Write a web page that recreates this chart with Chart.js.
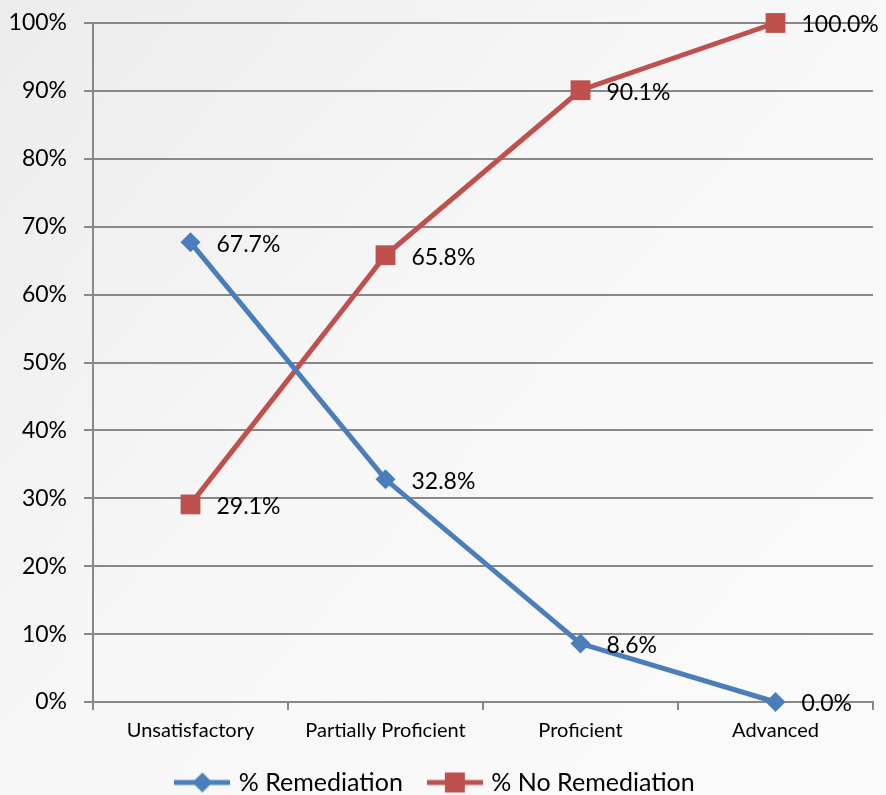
<!DOCTYPE html>
<html>
<head>
<meta charset="utf-8">
<script src="https://cdn.jsdelivr.net/npm/chart.js@4.4.0/dist/chart.umd.min.js"></script>
<style>
    html, body { margin: 0; padding: 0; background: #f6f6f6; }
    #wrap { width: 886px; height: 795px; position: relative; }
</style>
</head>
<body>
<div id="wrap"><canvas id="lineChart"></canvas></div>
<script>
const categories = ['Unsatisfactory', 'Partially Proficient', 'Proficient', 'Advanced'];
const remediation = [67.7, 32.8, 8.6, 0.0];
const noRemediation = [29.1, 65.8, 90.1, 100.0];
const yTicks = [0, 10, 20, 30, 40, 50, 60, 70, 80, 90, 100];

const BLUE = '#4a7ebb';
const RED = '#c0504d';
const FONT = 'Lato, "Open Sans", sans-serif';

// small canvas with a line and marker, used as the legend symbol
function legendSymbol(color, style) {
    const c = document.createElement('canvas');
    c.width = 56;
    c.height = 22;
    const g = c.getContext('2d');
    g.strokeStyle = color;
    g.lineWidth = 5;
    g.beginPath();
    g.moveTo(0, 11);
    g.lineTo(56, 11);
    g.stroke();
    g.fillStyle = color;
    if (style === 'diamond') {
        g.beginPath();
        g.moveTo(28, 1);
        g.lineTo(38, 11);
        g.lineTo(28, 21);
        g.lineTo(18, 11);
        g.closePath();
        g.fill();
    } else {
        g.fillRect(18, 1, 20, 20);
    }
    return c;
}

const backgroundPlugin = {
    id: 'bg',
    beforeDraw(chart) {
        const ctx = chart.ctx;
        const grad = ctx.createLinearGradient(0, 0, chart.width, chart.height);
        grad.addColorStop(0, '#ececec');
        grad.addColorStop(0.45, '#f7f7f7');
        grad.addColorStop(1, '#fbfbfb');
        ctx.save();
        ctx.fillStyle = grad;
        ctx.fillRect(0, 0, chart.width, chart.height);
        ctx.restore();
    }
};

const valueLabels = {
    id: 'valueLabels',
    afterDatasetsDraw(chart) {
        const ctx = chart.ctx;
        ctx.save();
        ctx.font = '23px ' + FONT;
        ctx.fillStyle = '#000';
        ctx.textAlign = 'left';
        ctx.textBaseline = 'middle';
        chart.data.datasets.forEach((ds, i) => {
            const meta = chart.getDatasetMeta(i);
            meta.data.forEach((pt, j) => {
                ctx.fillText(ds.data[j].toFixed(1) + '%', pt.x + 26, pt.y + 2);
            });
        });
        ctx.restore();
    }
};

const ctx = document.getElementById('lineChart').getContext('2d');
new Chart(ctx, {
    type: 'line',
    data: {
        labels: categories,
        datasets: [{
            label: '% Remediation',
            data: remediation,
            borderColor: BLUE,
            backgroundColor: BLUE,
            borderWidth: 5,
            pointStyle: 'rectRot',
            pointRadius: 10,
            pointBorderWidth: 0,
            tension: 0,
            clip: false
        }, {
            label: '% No Remediation',
            data: noRemediation,
            borderColor: RED,
            backgroundColor: RED,
            borderWidth: 5,
            pointStyle: 'rect',
            pointRadius: 14,
            pointBorderWidth: 0,
            tension: 0,
            clip: false
        }]
    },
    options: {
        responsive: true,
        maintainAspectRatio: false,
        animation: false,
        layout: {
            autoPadding: false,
            padding: { top: 23, right: 13, bottom: -10, left: 0 }
        },
        plugins: {
            tooltip: { enabled: false },
            legend: {
                position: 'bottom',
                labels: {
                    usePointStyle: true,
                    pointStyleWidth: 48,
                    color: '#000',
                    font: { size: 25, family: FONT },
                    padding: 28,
                    generateLabels(chart) {
                        return chart.data.datasets.map((ds, i) => ({
                            text: ds.label,
                            pointStyle: legendSymbol(ds.borderColor, i === 0 ? 'diamond' : 'square'),
                            fillStyle: ds.borderColor,
                            strokeStyle: ds.borderColor,
                            lineWidth: 0,
                            datasetIndex: i,
                            hidden: false
                        }));
                    }
                }
            }
        },
        scales: {
            x: {
                offset: true,
                grid: {
                    offset: true,
                    drawOnChartArea: false,
                    drawTicks: true,
                    tickLength: 8,
                    color: '#888',
                    lineWidth: 2
                },
                border: { color: '#888', width: 2 },
                ticks: {
                    color: '#000',
                    font: { size: 20, family: FONT },
                    padding: 9
                },
                afterFit(scale) { scale.height = 40; }
            },
            y: {
                min: 0,
                max: 100,
                afterBuildTicks(scale) {
                    scale.ticks = yTicks.map(v => ({ value: v }));
                },
                grid: {
                    color: '#888',
                    lineWidth: 2,
                    tickLength: 9
                },
                border: { color: '#888', width: 2 },
                ticks: {
                    color: '#000',
                    font: { size: 23, family: FONT },
                    padding: 17,
                    callback: v => v + '%'
                },
                afterFit(scale) {
                    scale.width = 93;
                    scale.paddingTop = 0;
                    scale.paddingBottom = 0;
                }
            }
        }
    },
    plugins: [backgroundPlugin, valueLabels]
});
</script>
</body>
</html>
